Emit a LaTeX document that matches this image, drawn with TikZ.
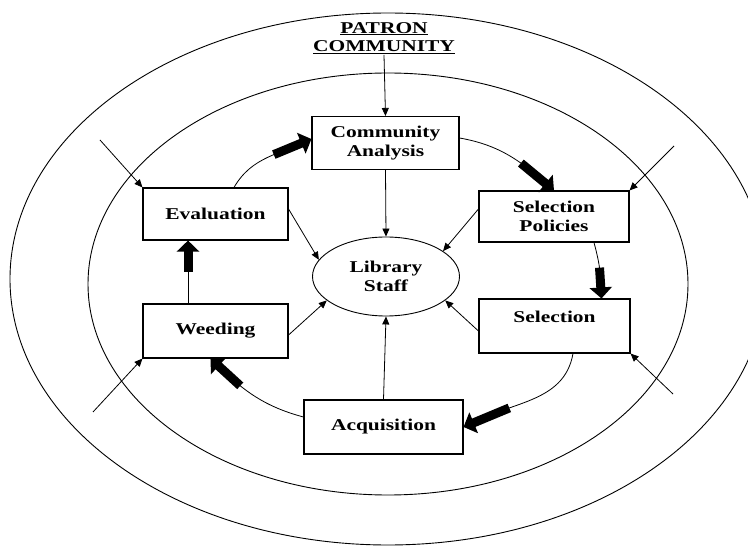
\documentclass[tikz,border=0pt]{standalone}
\usepackage{fontspec}
\setmainfont{Liberation Serif}[FakeStretch=1.3]
\usetikzlibrary{arrows.meta,shapes.geometric}

\begin{document}
\begin{tikzpicture}[x=1pt,y=1pt,
  font=\bfseries\fontsize{16.5}{18.5}\selectfont,
  box/.style={draw,line width=1.1pt,inner sep=0pt,align=center},
  feed/.style={line width=0.8pt,-{Triangle[length=8pt,width=7pt]}},
  loopline/.style={line width=0.8pt},
  fat/.style={line width=9pt,-{Triangle[length=11pt,width=22pt]}}]

\useasboundingbox (0,0) rectangle (748,547);

\draw [line width=0.9pt] (388,268) ellipse [x radius=378, y radius=266];
\draw [line width=0.9pt] (388,263) ellipse [x radius=300, y radius=211];

\node [align=center,inner sep=1pt] (pc) at (384,509) {\underline{PATRON}\\\underline{COMMUNITY}};

\node [box,minimum width=147pt,minimum height=53pt] (ca) at (385.5,404) {Community\\Analysis};
\node [box,minimum width=145pt,minimum height=52pt] (ev) at (215.5,333) {Evaluation};
\node [box,minimum width=150pt,minimum height=51pt] (sp) at (554,330.5) {Selection\\Policies};
\node [box,minimum width=145pt,minimum height=54pt] (we) at (215.5,216) {Weeding};
\node [box,minimum width=151pt,minimum height=54pt] (se) at (554.5,221) {Selection\\ \mbox{}};
\node [box,minimum width=159pt,minimum height=54pt] (ac) at (383.5,120) {Acquisition};
\node [draw,ellipse,line width=0.9pt,minimum width=147pt,minimum height=79pt,align=center,inner sep=0pt] (ls) at (386,270.5) {Library\\Staff};

\coordinate (nw) at (100,407);
\coordinate (ne) at (674,401);
\coordinate (sw) at (93,135);
\coordinate (se0) at (673,153);

\draw [feed] (pc.south) -- (ca.north);
\draw [feed] (ca.south) -- (ls.north);
\draw [feed] (ac.north) -- (ls.south);
\draw [feed] ([yshift=5pt]ev.east) -- (ls.166);
\draw [feed] ([yshift=7.5pt]sp.west) -- (ls.24);
\draw [feed] ([yshift=-4pt]we.east) -- (ls.202);
\draw [feed] ([yshift=-5pt]se.west) -- (ls.338);

\draw [feed] (nw) -- (ev.north west);
\draw [feed] (ne) -- (sp.north east);
\draw [feed] (sw) -- (we.south west);
\draw [feed] (se0) -- (se.south east);

\draw [loopline] ([yshift=5pt]ca.east) to[out=-10,in=138] coordinate[pos=0.62] (k1) (sp.north);
\draw [fat] (k1) -- (sp.north);
\draw [loopline] ([xshift=40pt]sp.south) to[out=-75,in=90] coordinate[pos=0.45] (k2) ([xshift=47pt]se.north);
\draw [fat] (k2) -- ([xshift=47pt]se.north);
\draw [loopline] ([xshift=18.5pt]se.south) to[out=-100,in=30] coordinate[pos=0.67] (k3) (ac.east);
\draw [fat] (k3) -- (ac.east);
\draw [loopline] ([yshift=10pt]ac.west) to[out=165,in=-45] coordinate[pos=0.65] (k4) ([xshift=-5pt]we.south);
\draw [fat] (k4) -- ([xshift=-5pt]we.south);
\draw [loopline] ([xshift=-27.5pt]we.north) -- coordinate[pos=0.5] (k5) ([xshift=-27.5pt]ev.south);
\draw [fat] (k5) -- ([xshift=-27.5pt]ev.south);
\draw [loopline] ([xshift=18.5pt]ev.north) to[out=60,in=206] coordinate[pos=0.58] (k6) ([yshift=4pt]ca.west);
\draw [fat] (k6) -- ([yshift=4pt]ca.west);

\end{tikzpicture}
\end{document}
